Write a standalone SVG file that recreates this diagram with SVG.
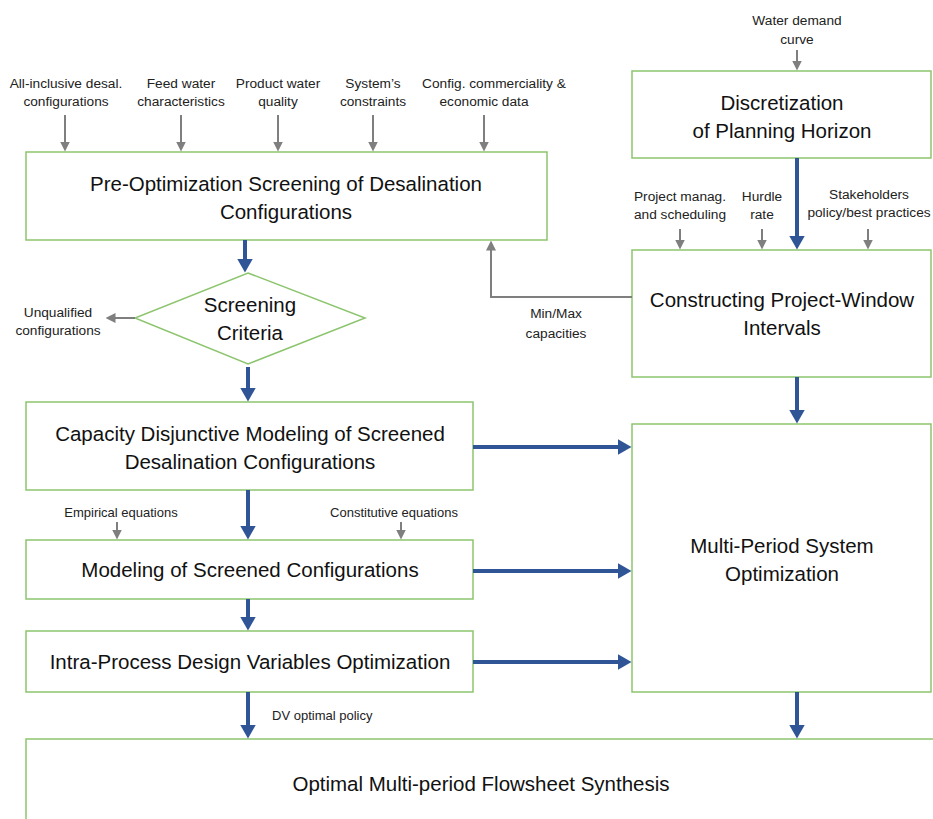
<svg xmlns="http://www.w3.org/2000/svg" width="933" height="819" viewBox="0 0 933 819">
<defs>
<marker id="ab" viewBox="0 0 14 16" refX="0.5" refY="8" markerWidth="14" markerHeight="16" markerUnits="userSpaceOnUse" orient="auto"><path d="M0,0 L14,8 L0,16 z" fill="#2f5597"/></marker>
<marker id="ag" viewBox="0 0 10 10" refX="0.5" refY="5" markerWidth="10" markerHeight="10" markerUnits="userSpaceOnUse" orient="auto"><path d="M0,0 L10,5 L0,10 z" fill="#7f7f7f"/></marker>
</defs>
<style>
.box{fill:#fff;stroke:#8cc56e;stroke-width:1.5}
.t{font-family:"Liberation Sans",Arial,sans-serif;fill:#111;text-anchor:middle}
.big{font-size:20.5px}
.sm{font-size:13.7px;fill:#222}
.xs{font-size:13px;fill:#222}
.b{stroke:#2f5597;stroke-width:4;fill:none}
.g{stroke:#7f7f7f;stroke-width:2;fill:none}
</style>
<rect width="933" height="819" fill="#fff"/>

<g id="inputs">
<text class="t sm" x="66" y="88">All-inclusive desal.</text>
<text class="t sm" x="66" y="106">configurations</text>
<text class="t sm" x="181" y="88">Feed water</text>
<text class="t sm" x="181" y="106">characteristics</text>
<text class="t sm" x="278" y="88">Product water</text>
<text class="t sm" x="278" y="106">quality</text>
<text class="t sm" x="373" y="88">System’s</text>
<text class="t sm" x="373" y="106">constraints</text>
<text class="t sm" x="494" y="88">Config. commerciality &amp;</text>
<text class="t sm" x="484" y="106">economic data</text>
<text class="t sm" x="797" y="25">Water demand</text>
<text class="t sm" x="797" y="44">curve</text>
<text class="t sm" x="680" y="201">Project manag.</text>
<text class="t sm" x="680" y="219">and scheduling</text>
<text class="t sm" x="762" y="201">Hurdle</text>
<text class="t sm" x="762" y="219">rate</text>
<text class="t sm" x="869" y="199">Stakeholders</text>
<text class="t sm" x="869" y="217">policy/best practices</text>
<text class="t sm" x="58" y="317">Unqualified</text>
<text class="t sm" x="58" y="335">configurations</text>
<text class="t sm" x="556" y="318">Min/Max</text>
<text class="t sm" x="556" y="338">capacities</text>
<text class="t xs" x="121" y="517">Empirical equations</text>
<text class="t xs" x="394" y="517">Constitutive equations</text>
<text class="t xs" x="272" y="720" style="text-anchor:start">DV optimal policy</text>
</g>

<g id="preopt">
<rect class="box" x="26" y="152" width="521" height="88"/>
<text class="t big" x="286" y="191">Pre-Optimization Screening of Desalination</text>
<text class="t big" x="286" y="219">Configurations</text>
</g>
<g id="discretization">
<rect class="box" x="632" y="71" width="299" height="87"/>
<text class="t big" x="782" y="110">Discretization</text>
<text class="t big" x="782" y="138">of Planning Horizon</text>
</g>
<g id="constructing">
<rect class="box" x="632" y="250" width="299" height="127"/>
<text class="t big" x="782" y="307">Constructing Project-Window</text>
<text class="t big" x="782" y="335">Intervals</text>
</g>
<g id="screening">
<polygon class="box" points="248,273 365,318 248,364 135,318"/>
<text class="t big" x="250" y="312">Screening</text>
<text class="t big" x="250" y="340">Criteria</text>
</g>
<g id="capacity">
<rect class="box" x="26" y="402" width="447" height="88"/>
<text class="t big" x="250" y="441">Capacity Disjunctive Modeling of Screened</text>
<text class="t big" x="250" y="469">Desalination Configurations</text>
</g>
<g id="modeling">
<rect class="box" x="26" y="540" width="447" height="59"/>
<text class="t big" x="250" y="577">Modeling of Screened Configurations</text>
</g>
<g id="intra">
<rect class="box" x="26" y="631" width="447" height="61"/>
<text class="t big" x="250" y="669">Intra-Process Design Variables Optimization</text>
</g>
<g id="multiperiod">
<rect class="box" x="632" y="424" width="299" height="268"/>
<text class="t big" x="782" y="553">Multi-Period System</text>
<text class="t big" x="782" y="581">Optimization</text>
</g>
<g id="flowsheet">
<rect class="box" x="26" y="739" width="930" height="100"/>
<text class="t big" x="481" y="791">Optimal Multi-period Flowsheet Synthesis</text>
</g>

<g id="connectors">
<line class="g" x1="65" y1="115" x2="65" y2="142" marker-end="url(#ag)"/>
<line class="g" x1="181" y1="115" x2="181" y2="142" marker-end="url(#ag)"/>
<line class="g" x1="278" y1="115" x2="278" y2="142" marker-end="url(#ag)"/>
<line class="g" x1="373" y1="115" x2="373" y2="142" marker-end="url(#ag)"/>
<line class="g" x1="484" y1="115" x2="484" y2="142" marker-end="url(#ag)"/>
<line class="g" x1="797" y1="50" x2="797" y2="61" marker-end="url(#ag)"/>
<line class="g" x1="680" y1="229" x2="680" y2="240" marker-end="url(#ag)"/>
<line class="g" x1="762" y1="229" x2="762" y2="240" marker-end="url(#ag)"/>
<line class="g" x1="868" y1="229" x2="868" y2="240" marker-end="url(#ag)"/>
<polyline class="g" points="632,297 491,297 491,250" marker-end="url(#ag)"/>
<line class="g" x1="135" y1="318" x2="115" y2="318" marker-end="url(#ag)"/>
<line class="g" x1="117" y1="522" x2="117" y2="530" marker-end="url(#ag)"/>
<line class="g" x1="401" y1="522" x2="401" y2="530" marker-end="url(#ag)"/>

<line class="b" x1="797" y1="158" x2="797" y2="236" marker-end="url(#ab)"/>
<line class="b" x1="245" y1="240" x2="245" y2="259" marker-end="url(#ab)"/>
<line class="b" x1="248" y1="367" x2="248" y2="388" marker-end="url(#ab)"/>
<line class="b" x1="473" y1="447" x2="618" y2="447" marker-end="url(#ab)"/>
<line class="b" x1="797" y1="377" x2="797" y2="410" marker-end="url(#ab)"/>
<line class="b" x1="248" y1="490" x2="248" y2="526" marker-end="url(#ab)"/>
<line class="b" x1="473" y1="571" x2="618" y2="571" marker-end="url(#ab)"/>
<line class="b" x1="248" y1="599" x2="248" y2="617" marker-end="url(#ab)"/>
<line class="b" x1="473" y1="662" x2="618" y2="662" marker-end="url(#ab)"/>
<line class="b" x1="248" y1="692" x2="248" y2="725" marker-end="url(#ab)"/>
<line class="b" x1="797" y1="692" x2="797" y2="725" marker-end="url(#ab)"/>
</g>
</svg>
